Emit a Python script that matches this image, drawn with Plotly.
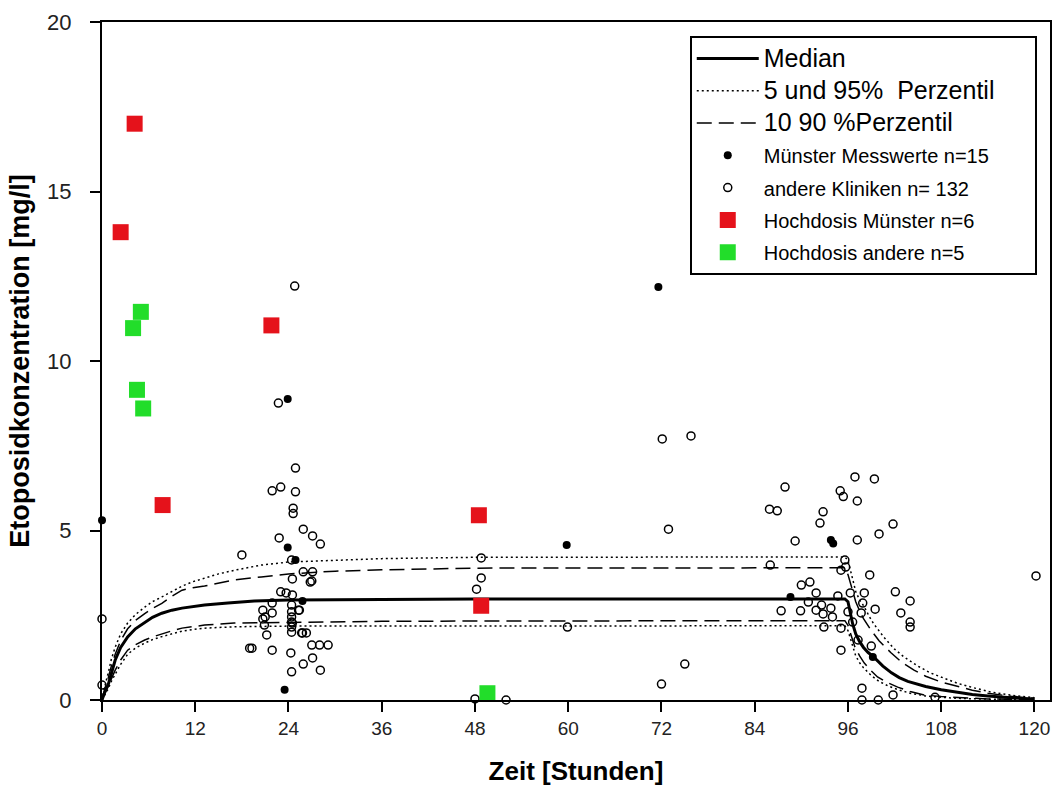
import plotly.graph_objects as go

# ---- percentile curves (time in hours, concentration in mg/l) ----
t_curve_med = [0, 0.3, 0.8, 1.2, 1.7, 2.4, 3.3, 4.3, 5.5, 6.5, 7.7, 9.0, 10.3, 11.7, 13.2, 16.2, 19.6, 24,
               36, 48, 72, 95.6, 96, 96.3, 96.6, 97, 97.5, 98, 98.6, 99.3, 100.5, 101.6, 102.6, 103.7,
               105, 106, 108, 110, 112, 114, 116, 118, 120]
c_median = [0, 0.2, 0.45, 0.8, 1.18, 1.55, 1.86, 2.1, 2.3, 2.44, 2.56, 2.65, 2.71, 2.76, 2.8, 2.86, 2.92, 2.95,
            2.97, 2.98, 2.98, 2.98, 2.9, 2.55, 2.25, 1.95, 1.72, 1.55, 1.4, 1.27, 1.0, 0.8, 0.66, 0.55,
            0.46, 0.4, 0.3, 0.22, 0.16, 0.12, 0.08, 0.05, 0.03]

t_curve_p95 = [0, 0.3, 0.8, 1.2, 1.7, 2.4, 3.3, 4.3, 5.5, 6.5, 7.7, 9.0, 10.3, 11.7, 13.2, 15.0, 17.1,
               20.5, 24, 30, 36, 48, 72, 95.6, 96, 96.4, 97, 97.5, 98.1, 98.7, 99.3, 100.6, 102, 103.2,
               105, 106.6, 108, 110, 112, 114.3, 117, 120]
c_p95 = [0, 0.35, 0.8, 1.2, 1.56, 1.95, 2.27, 2.52, 2.74, 2.9, 3.04, 3.2, 3.36, 3.49, 3.6, 3.72, 3.83,
         3.98, 4.07, 4.13, 4.17, 4.21, 4.22, 4.22, 4.12, 3.75, 3.2, 2.95, 2.75, 2.48, 2.25, 1.86, 1.5, 1.27,
         1.0, 0.8, 0.67, 0.5, 0.37, 0.24, 0.14, 0.07]

t_curve_p90 = [0, 0.3, 0.8, 1.2, 1.7, 2.4, 3.3, 4.3, 5.5, 6.5, 7.7, 9.0, 10.3, 11.7, 13.2, 15.0, 17,
               20.5, 24, 30, 36, 48, 72, 95.6, 96, 96.5, 97, 97.5, 98, 99, 100, 101.5, 103, 104.5, 106,
               108, 110, 112, 114, 117, 120]
c_p90 = [0, 0.28, 0.65, 1.0, 1.35, 1.75, 2.1, 2.35, 2.55, 2.7, 2.85, 3.06, 3.24, 3.31, 3.36, 3.45, 3.54,
         3.63, 3.72, 3.8, 3.84, 3.89, 3.9, 3.9, 3.7, 3.3, 2.9, 2.63, 2.4, 2.05, 1.75, 1.4, 1.1, 0.88, 0.7,
         0.53, 0.4, 0.29, 0.2, 0.11, 0.05]

t_curve_p10 = [0, 0.3, 0.8, 1.2, 1.7, 2.4, 3.3, 4.3, 5.5, 6.5, 7.7, 9.0, 10.3, 11.7, 13.2, 17, 20.5, 24,
               36, 48, 72, 95.6, 96, 96.5, 96.9, 97.5, 98.1, 99, 99.8, 101, 102.4, 104, 105.8, 108, 110,
               114, 120]
c_p10 = [0, 0.15, 0.4, 0.65, 0.88, 1.18, 1.47, 1.63, 1.77, 1.86, 1.95, 2.04, 2.12, 2.17, 2.21, 2.27, 2.28,
         2.3, 2.32, 2.33, 2.34, 2.34, 2.2, 1.85, 1.56, 1.3, 1.09, 0.86, 0.68, 0.52, 0.38, 0.25, 0.15, 0.1,
         0.07, 0.03, 0.01]

t_curve_p05 = [0, 0.3, 0.8, 1.2, 1.7, 2.4, 3.3, 4.3, 5.5, 6.5, 7.7, 9.0, 10.3, 11.7, 13.2, 17, 20.5, 24,
               36, 48, 72, 95.6, 96, 96.5, 97, 97.5, 98, 99, 100, 101.2, 102.5, 104, 106, 108, 110, 115, 120]
c_p05 = [0, 0.12, 0.33, 0.55, 0.75, 1.05, 1.35, 1.53, 1.68, 1.78, 1.87, 1.96, 2.03, 2.08, 2.12, 2.16, 2.17,
         2.18, 2.18, 2.18, 2.19, 2.19, 2.05, 1.65, 1.3, 1.1, 0.95, 0.72, 0.55, 0.41, 0.3, 0.2, 0.12, 0.08,
         0.05, 0.02, 0.01]

# ---- measured concentrations ----
muenster_t = [0, 23.9, 23.9, 24.9, 23.5, 25.8, 59.8, 71.6, 88.6, 93.8, 94.1, 99.2]
muenster_c = [5.3, 8.88, 4.5, 4.13, 0.3, 2.92, 4.57, 12.18, 3.04, 4.72, 4.62, 1.27]

andere_t = [0, 0,
            24.8, 22.7, 24.9, 21.9, 23.0, 24.9, 24.6, 24.6, 25.9, 27.1, 28.1, 22.8, 18.0, 24.4,
            24.5, 25.9, 27.1, 27.0, 23.0, 23.7, 24.5, 24.4, 24.4, 24.4, 24.4, 24.4, 24.4, 25.3,
            21.9, 20.7, 20.9, 21.2, 20.7, 21.0, 24.5, 25.7, 26.3, 19.0, 19.3, 21.9, 24.3, 27.0,
            28.0, 29.1, 27.1, 25.9, 28.1, 24.4, 26.8, 25.4, 25.8, 21.9,
            48.8, 48.8, 48.2, 48.0, 52.0, 59.9,
            72.9, 75.0, 72.0, 72.1, 75.8,
            85.9, 86.9, 86.0, 87.9, 92.8, 92.4, 89.2, 97.2, 100.0, 101.8, 96.9, 99.4, 95.0, 95.4,
            97.2, 95.6, 95.7, 95.1, 98.8, 120.2, 90.0, 91.1, 91.9, 94.7, 96.3, 98.1, 102.1, 104.0,
            102.8, 104.0, 104.0, 87.4, 89.9, 90.9, 91.9, 92.6, 92.8, 93.8, 92.9, 95.1, 97.7, 97.9,
            99.5, 97.3, 99.0, 95.1, 97.8, 97.8, 99.9, 101.8, 107.2, 94.0, 96.0, 96.6]
andere_c = [2.39, 0.44,
            12.21, 8.76, 6.84, 6.17, 6.28, 6.14, 5.66, 5.5, 5.04, 4.84, 4.6, 4.78, 4.28, 4.13,
            3.57, 3.78, 3.78, 3.51, 3.19, 3.16, 3.1, 2.8, 2.6, 2.45, 2.3, 2.15, 2.0, 2.65,
            2.57, 2.39, 2.21, 1.92, 2.65, 2.45, 2.27, 1.98, 1.98, 1.53, 1.53, 1.47, 1.39, 1.62,
            1.62, 1.62, 1.24, 1.06, 0.88, 0.83, 3.48, 2.65, 1.98, 2.86,
            4.19, 3.6, 3.27, 0.03, 0.0, 2.15,
            5.04, 1.06, 0.47, 7.7, 7.79,
            5.63, 5.58, 3.98, 6.28, 5.55, 5.22, 4.69, 4.72, 4.9, 5.19, 6.58, 6.52, 6.17, 6.0,
            5.87, 4.13, 3.92, 3.83, 3.69, 3.66, 3.39, 3.48, 3.16, 3.07, 3.16, 3.16, 3.19, 2.92,
            2.57, 2.3, 2.15, 2.63, 2.63, 2.89, 2.65, 2.8, 2.54, 2.71, 2.15, 2.12, 2.57, 2.86,
            2.68, 1.77, 1.59, 1.47, 0.35, 0.0, 0.0, 0.15, 0.08, 2.45, 2.6, 2.3]

hd_muenster_t = [4.2, 2.4, 21.8, 7.8, 48.5, 48.8]
hd_muenster_c = [17.0, 13.8, 11.05, 5.75, 5.45, 2.78]

hd_andere_t = [5.0, 4.0, 4.5, 5.3, 49.6]
hd_andere_c = [11.45, 10.97, 9.15, 8.6, 0.2]

x_ticks = [0, 12, 24, 36, 48, 60, 72, 84, 96, 108, 120]
y_ticks = [0, 5, 10, 15, 20]

BIG = '<span style="font-size:25px">{}</span>'
NARROW = '<span style="font-size:20px">{}</span>'
PAD = "&nbsp;" * 5

fig = go.Figure()

# percentile curves
fig.add_trace(go.Scatter(x=t_curve_med, y=c_median, mode="lines", name=BIG.format("Median"),
                         legendgroup="med", line=dict(color="black", width=3)))
fig.add_trace(go.Scatter(x=t_curve_p95, y=c_p95, mode="lines",
                         name=BIG.format("5 und 95%  Perzentil" + PAD),
                         legendgroup="p5", line=dict(color="black", width=1.5, dash="2px,3px")))
fig.add_trace(go.Scatter(x=t_curve_p05, y=c_p05, mode="lines", name="5 und 95%  Perzentil",
                         legendgroup="p5", showlegend=False,
                         line=dict(color="black", width=1.5, dash="2px,3px")))
fig.add_trace(go.Scatter(x=t_curve_p90, y=c_p90, mode="lines", name=BIG.format("10 90 %Perzentil"),
                         legendgroup="p10", line=dict(color="black", width=1.5, dash="15px,7px")))
fig.add_trace(go.Scatter(x=t_curve_p10, y=c_p10, mode="lines", name="10 90 %Perzentil",
                         legendgroup="p10", showlegend=False,
                         line=dict(color="black", width=1.5, dash="15px,7px")))

# measured points
fig.add_trace(go.Scatter(x=muenster_t, y=muenster_c, mode="markers",
                         name=NARROW.format("Münster Messwerte n=15"),
                         legendgroup="ms", cliponaxis=False,
                         marker=dict(symbol="circle", size=8, color="black")))
fig.add_trace(go.Scatter(x=andere_t, y=andere_c, mode="markers",
                         name=NARROW.format("andere Kliniken n= 132"),
                         legendgroup="ak", cliponaxis=False,
                         marker=dict(symbol="circle-open", size=8, color="black", line=dict(width=1.5))))
fig.add_trace(go.Scatter(x=hd_muenster_t, y=hd_muenster_c, mode="markers",
                         name=NARROW.format("Hochdosis Münster n=6"),
                         legendgroup="hm", cliponaxis=False,
                         marker=dict(symbol="square", size=16, color="#e5121b")))
fig.add_trace(go.Scatter(x=hd_andere_t, y=hd_andere_c, mode="markers",
                         name=NARROW.format("Hochdosis andere n=5"),
                         legendgroup="ha", cliponaxis=False,
                         marker=dict(symbol="square", size=16, color="#22dd2a")))

base = "Liberation Sans, Arial, sans-serif"

fig.update_layout(
    width=1061, height=792,
    margin=dict(l=102, r=9, t=22, b=92),
    paper_bgcolor="white", plot_bgcolor="white",
    showlegend=True,
    legend=dict(x=0.62, y=0.979, xanchor="left", yanchor="top",
                bordercolor="black", borderwidth=2, bgcolor="white",
                font=dict(family=base, size=21, color="black"),
                traceorder="grouped", tracegroupgap=2, itemwidth=62),
    xaxis=dict(range=[0, 122], tickvals=x_ticks, ticktext=[str(v) for v in x_ticks],
               ticks="outside", ticklen=10, tickwidth=1.5, tickcolor="black",
               showline=True, linecolor="black", linewidth=2, mirror=True,
               showgrid=False, zeroline=False,
               tickfont=dict(family=base, size=19, color="#222"),
               title=dict(text="Zeit [Stunden]",
                          font=dict(family=base, size=26, color="black", weight="bold"),
                          standoff=24)),
    yaxis=dict(range=[0, 20], tickvals=y_ticks, ticktext=[str(v) for v in y_ticks],
               ticks="outside", ticklen=10, tickwidth=1.5, tickcolor="black",
               showline=True, linecolor="black", linewidth=2, mirror=True,
               showgrid=False, zeroline=False, ticklabelstandoff=14,
               tickfont=dict(family=base, size=22, color="#222"),
               title=dict(text="Etoposidkonzentration [mg/l]",
                          font=dict(family=base, size=27, color="black", weight="bold"),
                          standoff=10)),
)

fig.write_html("out.html")
